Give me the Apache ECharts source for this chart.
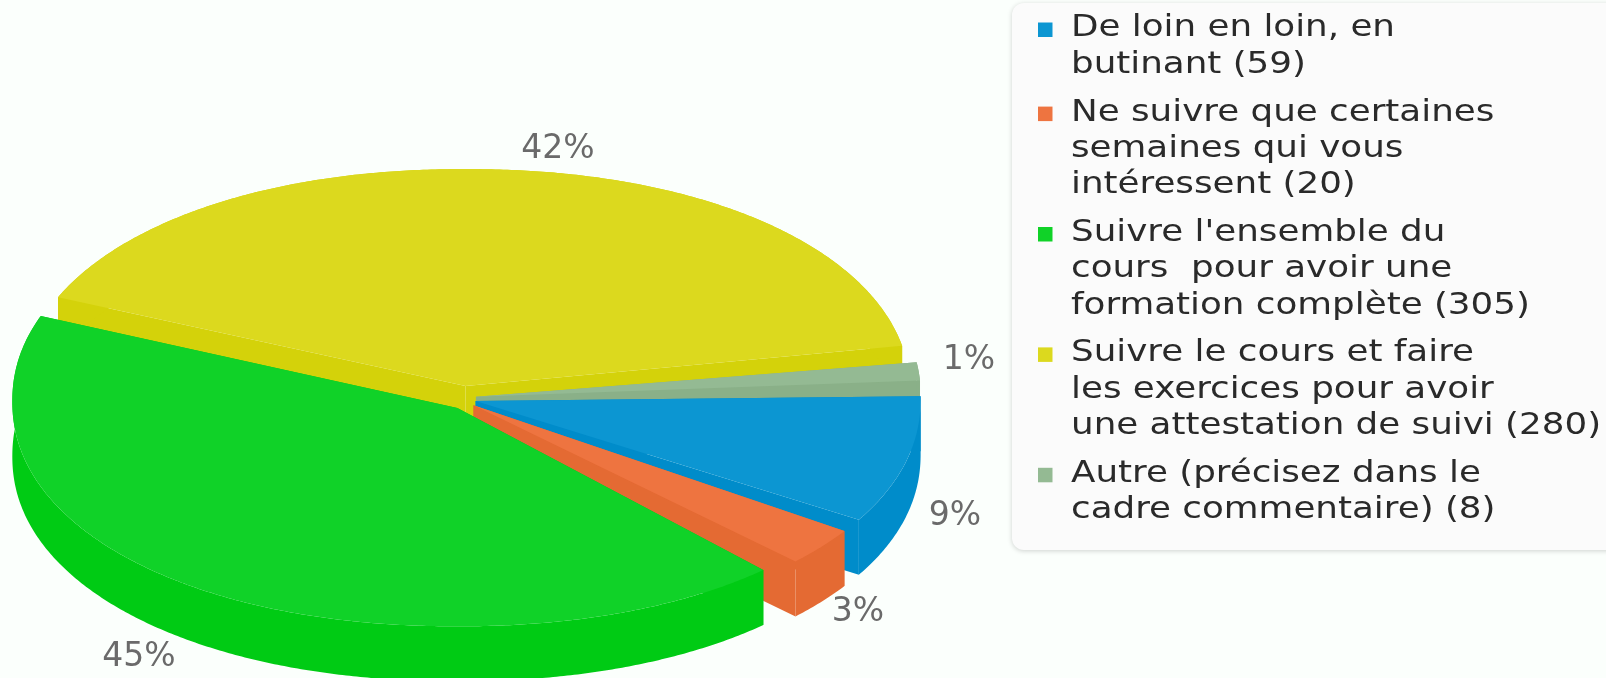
<!DOCTYPE html>
<html>
<head>
<meta charset="utf-8">
<style>html, body {margin: 0; padding: 0; background: #fbfffc;} #chart {width: 1606px; height: 678px;}</style>
<script src="https://cdn.jsdelivr.net/npm/echarts@6/dist/echarts.min.js"></script>
</head>
<body>
<div id="chart"></div>
<script>
var categories = [
    'De loin en loin, en\nbutinant',
    'Ne suivre que certaines\nsemaines qui vous\nintéressent',
    "Suivre l'ensemble du\ncours  pour avoir une\nformation complète",
    'Suivre le cours et faire\nles exercices pour avoir\nune attestation de suivi',
    'Autre (précisez dans le\ncadre commentaire)'
];
var values = [59, 20, 305, 280, 8];

var topColors = ['#0c96d2', '#ee7440', '#10d228', '#dcd91e', '#94ba93'];
var sideColors = ['#008cca', '#e46a33', '#00cb14', '#d4d20a', '#8ab088'];
// yellow at the back, green in front
var paintOrder = [2, 3, 4, 0, 1];
var labelPos = [[955, 516], [858, 612], [139, 657], [558, 149], [969, 360]];

var cx = 464, cy = 398, rx = 445, ry = 225, depth = 55, explode = 12, arcExplodeY = 4;
var startDeg = -1, padDeg = 3, roundness = 0.95;

var total = values.reduce(function (a, b) { return a + b; }, 0);
var sweepScale = (360 - padDeg * values.length) / 360;
var angles = [];
var acc = startDeg;
values.forEach(function (v) {
    var sweep = v / total * 360 * sweepScale;
    angles.push([acc, acc + sweep]);
    acc += sweep + padDeg;
});

// the source tilts the disc a little: front slices look narrower, back ones wider
function warp(deg) {
    var t = deg * Math.PI / 180;
    return deg + 2 * Math.sin(2 * t) + 1.5 * Math.cos(t) - 1;
}

function soft(c) {
    return (c < 0 ? -1 : 1) * Math.pow(Math.abs(c), roundness);
}

function arcPoints(x, y, from, to) {
    var pts = [];
    var n = Math.max(2, Math.ceil((to - from) * 2));
    for (var i = 0; i <= n; i++) {
        var t = warp(from + (to - from) * i / n) * Math.PI / 180;
        pts.push([x + rx * soft(Math.cos(t)), y + ry * soft(Math.sin(t))]);
    }
    return pts;
}

function renderSlice(params, api) {
    var i = params.dataIndex;
    var v = api.value(0);
    var a = angles[i];
    var mid = (a[0] + a[1]) / 2 * Math.PI / 180;
    var x = cx + explode * Math.cos(mid);
    var y = cy + explode * Math.sin(mid);
    var arc = arcPoints(x, cy + arcExplodeY * Math.sin(mid), a[0], a[1]);
    var first = arc[0], last = arc[arc.length - 1];
    var base = paintOrder[i] * 10;
    var side = {fill: sideColors[i]};
    var lower = arc.map(function (p) { return [p[0], p[1] + depth]; }).reverse();

    return {
        type: 'group',
        children: [
            {type: 'polygon', z2: base, style: side, shape: {points: [[x, y], first, [first[0], first[1] + depth], [x, y + depth]]}},
            {type: 'polygon', z2: base, style: side, shape: {points: [[x, y], last, [last[0], last[1] + depth], [x, y + depth]]}},
            {type: 'polygon', z2: base + 1, style: side, shape: {points: arc.concat(lower)}},
            {type: 'polygon', z2: base + 2, style: {fill: topColors[i]}, shape: {points: [[x, y]].concat(arc)}},
            {
                type: 'text', z2: 100, x: labelPos[i][0], y: labelPos[i][1],
                style: {
                    text: Math.round(v / total * 100) + '%',
                    fill: '#6a6a6a', font: '33px "DejaVu Sans"', align: 'center', verticalAlign: 'middle'
                }
            }
        ]
    };
}

// legend is laid out by hand because the swatch sits on the first line of each entry
var legendItems = [];
var lineH = 36.3, entryGap = 11.5, legendY = 10.5;
categories.forEach(function (name, i) {
    var text = name + ' (' + values[i] + ')';
    legendItems.push({
        type: 'rect', z: 5, shape: {x: 1038, y: legendY + 12, width: 14.5, height: 14.5},
        style: {fill: topColors[i]}
    });
    legendItems.push({
        type: 'text', z: 5, x: 1071, y: legendY, scaleX: 1.19,
        style: {text: text, fill: '#2a2a2a', font: '30px "DejaVu Sans"', lineHeight: lineH}
    });
    legendY += text.split('\n').length * lineH + entryGap;
});

var myChart = echarts.init(document.getElementById('chart'));
myChart.setOption({
    backgroundColor: '#fbfffc',
    animation: false,
    graphic: [
        {
            type: 'rect', z: 1,
            shape: {x: 1012, y: 3, width: 620, height: 547, r: 12},
            style: {fill: '#fbfbfb', shadowBlur: 5, shadowColor: 'rgba(0,0,0,0.18)', shadowOffsetY: 1}
        }
    ].concat(legendItems),
    series: [
        {
            type: 'custom',
            coordinateSystem: 'none',
            renderItem: renderSlice,
            silent: true,
            data: values.map(function (v) { return [v]; })
        }
    ]
});
</script>
</body>
</html>
